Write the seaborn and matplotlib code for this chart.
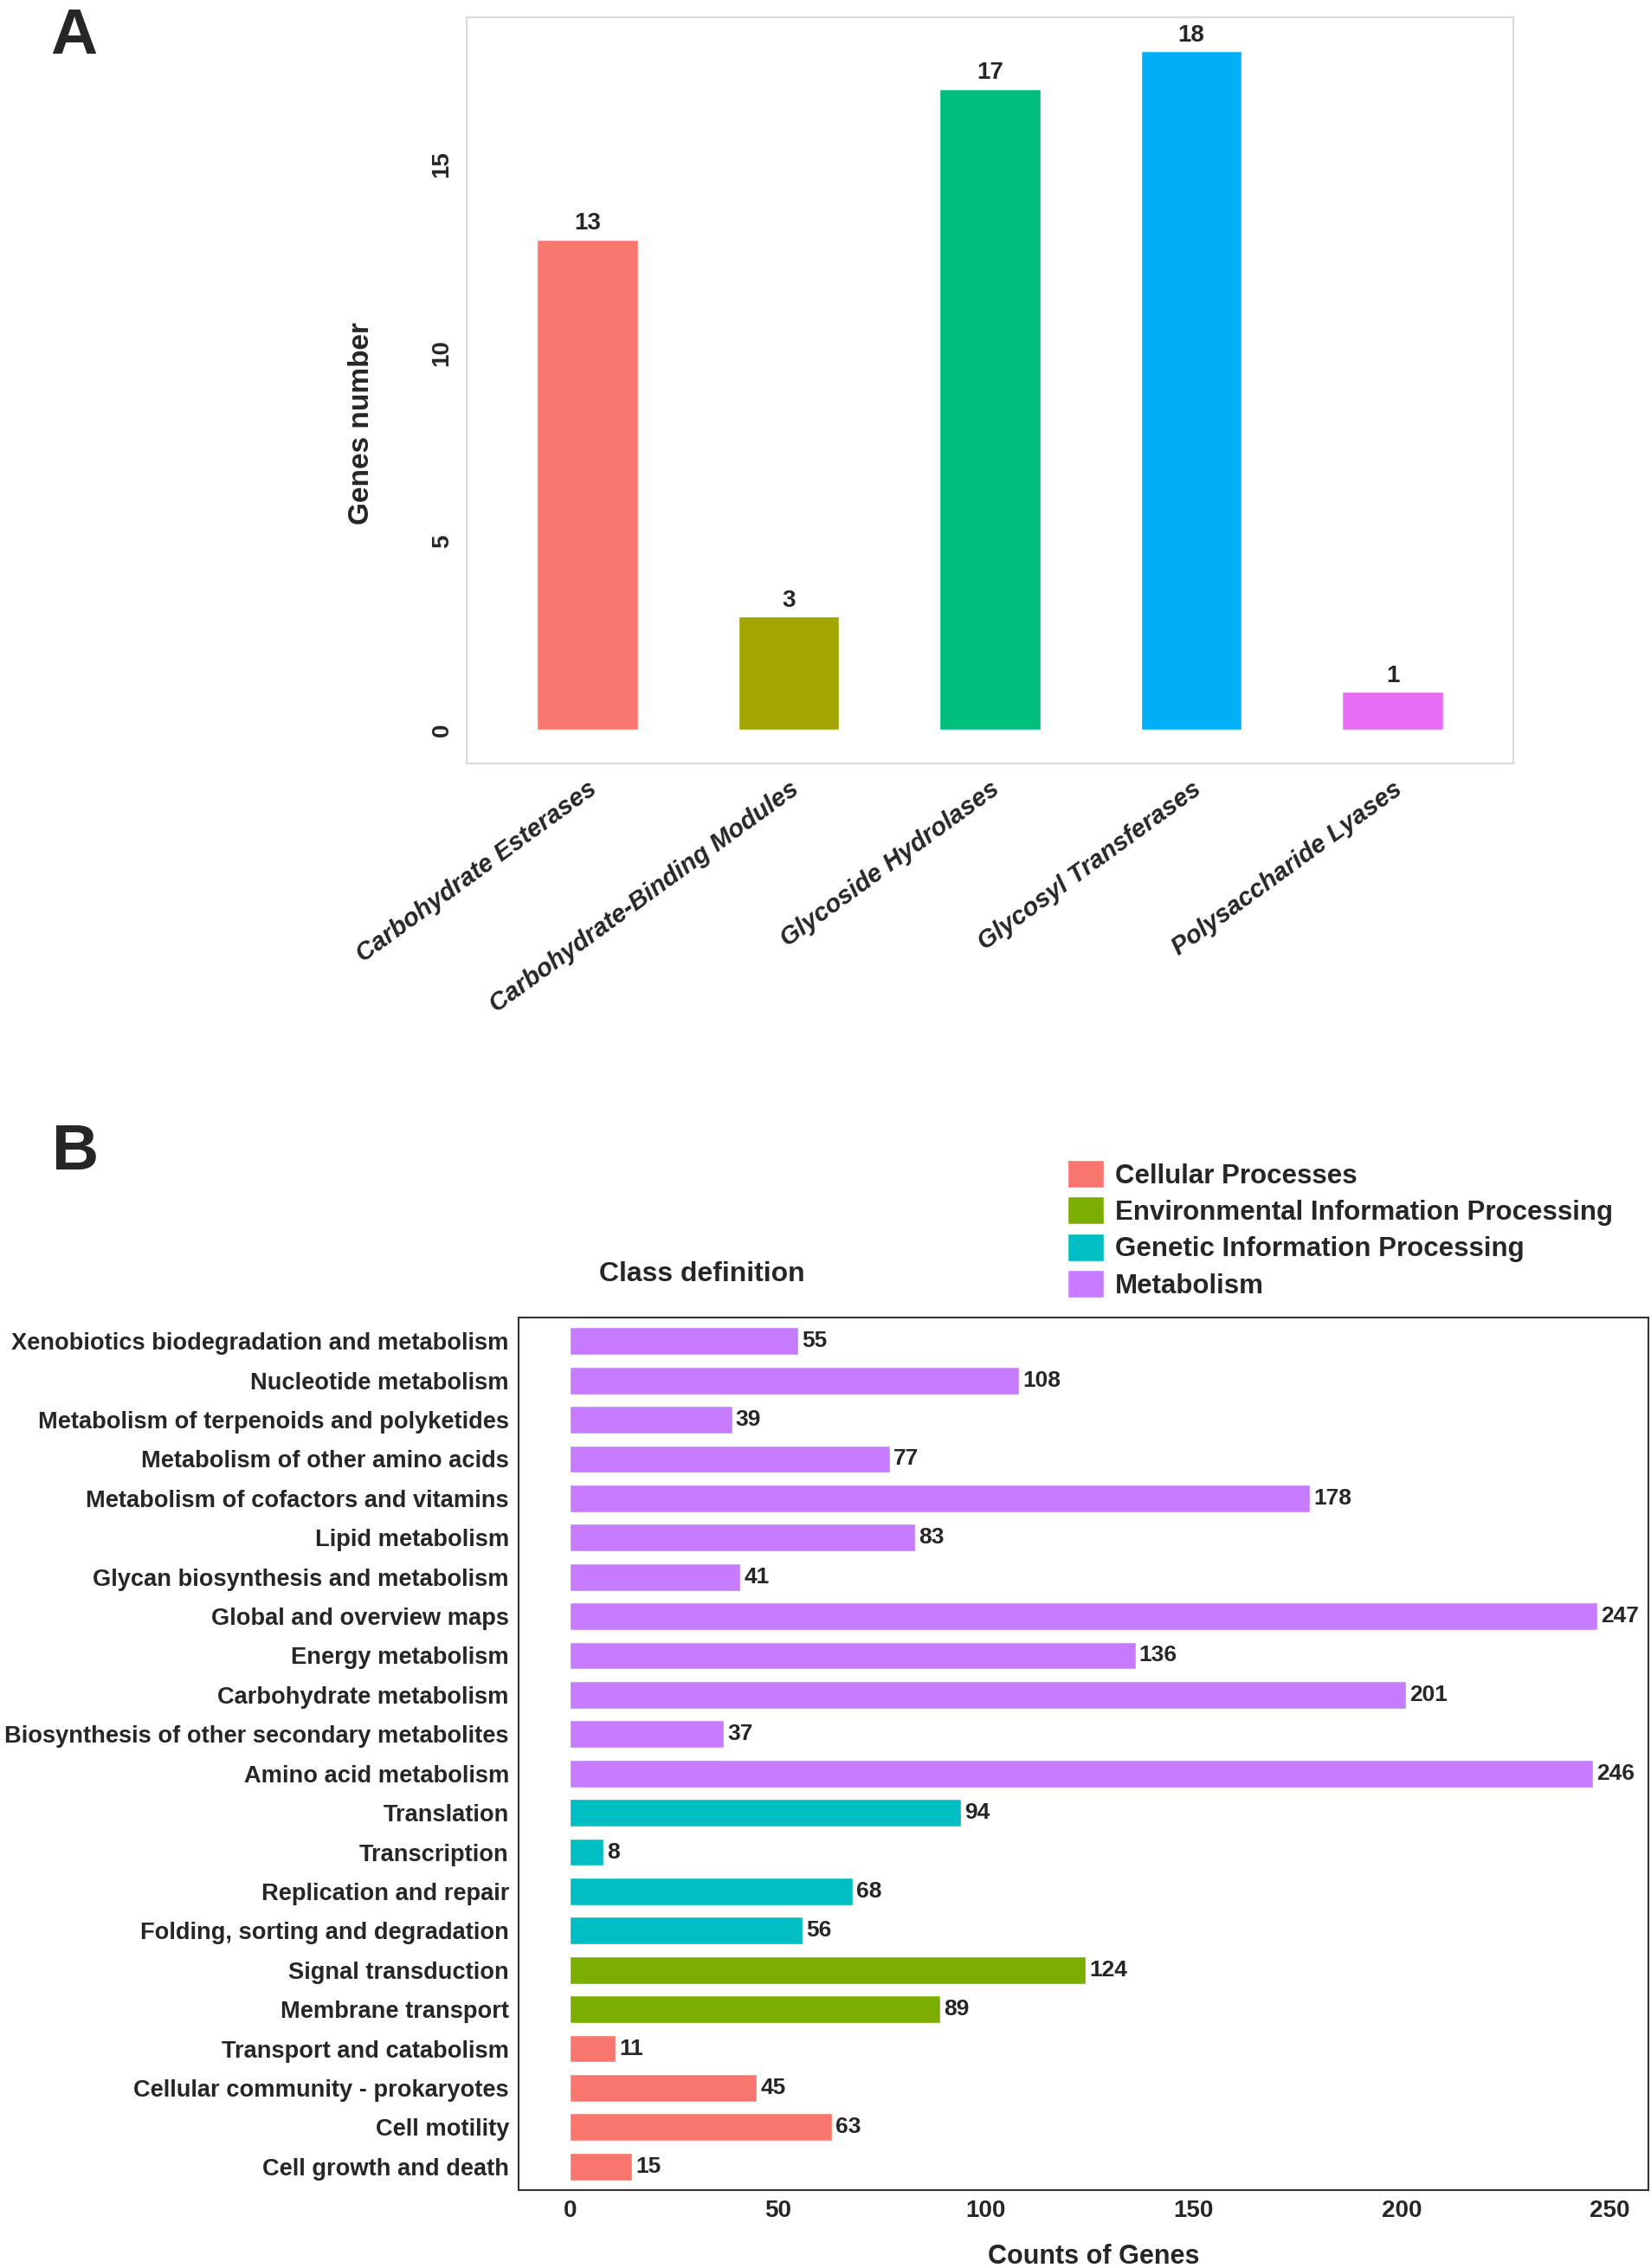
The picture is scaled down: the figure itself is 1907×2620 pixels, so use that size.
import matplotlib
matplotlib.use('Agg')
import matplotlib.pyplot as plt
import seaborn as sns
import pandas as pd
from matplotlib.patches import Patch

# Panel A: CAZy classes
cazy_classes = ['Carbohydrate Esterases', 'Carbohydrate-Binding Modules',
                'Glycoside Hydrolases', 'Glycosyl Transferases', 'Polysaccharide Lyases']
cazy_counts = [13, 3, 17, 18, 1]
cazy_colors = ['#F8766D', '#A3A500', '#00BF7D', '#00B0F6', '#E76BF3']

# Panel B: KEGG pathways (top to bottom)
kegg_pathways = ['Xenobiotics biodegradation and metabolism', 'Nucleotide metabolism',
                 'Metabolism of terpenoids and polyketides', 'Metabolism of other amino acids',
                 'Metabolism of cofactors and vitamins', 'Lipid metabolism',
                 'Glycan biosynthesis and metabolism', 'Global and overview maps',
                 'Energy metabolism', 'Carbohydrate metabolism',
                 'Biosynthesis of other secondary metabolites', 'Amino acid metabolism',
                 'Translation', 'Transcription', 'Replication and repair',
                 'Folding, sorting and degradation', 'Signal transduction', 'Membrane transport',
                 'Transport and catabolism', 'Cellular community - prokaryotes',
                 'Cell motility', 'Cell growth and death']
kegg_counts = [55, 108, 39, 77, 178, 83, 41, 247, 136, 201, 37, 246,
               94, 8, 68, 56, 124, 89, 11, 45, 63, 15]
kegg_class = ['Metabolism'] * 12 + ['Genetic Information Processing'] * 4 + \
             ['Environmental Information Processing'] * 2 + ['Cellular Processes'] * 4
class_names = ['Cellular Processes', 'Environmental Information Processing',
               'Genetic Information Processing', 'Metabolism']
class_colors = ['#F8766D', '#7CAE00', '#00BFC4', '#C77CFF']

sns.set_style('white')
plt.rcParams['font.family'] = ['Liberation Sans', 'DejaVu Sans']

W, H = 1907, 2620
fig = plt.figure(figsize=(W / 100, H / 100), dpi=100)

# ---- Panel A ----
axA = fig.add_axes([539 / W, 1 - 882 / H, (1748 - 539) / W, (882 - 20) / H])
dfA = pd.DataFrame({'cls': cazy_classes, 'n': cazy_counts})
sns.barplot(data=dfA, x='cls', y='n', hue='cls', palette=cazy_colors, width=0.5,
            saturation=1, legend=False, ax=axA)
axA.set_xlim(-0.6, 4.6)
axA.set_ylim(-0.9, 18.9)
axA.set_xlabel('')
axA.set_ylabel('')
axA.set_yticks([0, 5, 10, 15])
axA.set_yticklabels(['0', '5', '10', '15'], rotation=90, va='center', fontsize=20,
                    fontweight='bold')
axA.set_xticks(range(len(cazy_classes)))
axA.set_xticklabels(cazy_classes, rotation=36, ha='right', rotation_mode='anchor',
                    fontsize=21, fontweight='bold', fontstyle='italic')
axA.tick_params(axis='both', length=5, width=1.2, color='#333333', direction='out', pad=6)
for s in axA.spines.values():
    s.set_color('#D9D9D9')
    s.set_linewidth(1.5)
for c in axA.containers:
    axA.bar_label(c, padding=4, fontsize=20, fontweight='bold')
fig.text(418 / W, 1 - 489 / H, 'Genes number', rotation=90, ha='center', va='center',
         fontsize=24, fontweight='bold')

# ---- Panel B ----
axB = fig.add_axes([599 / W, 1 - 2530 / H, (1904 - 599) / W, (2530 - 1522) / H])
dfB = pd.DataFrame({'path': kegg_pathways, 'n': kegg_counts, 'cls': kegg_class})
sns.barplot(data=dfB, x='n', y='path', hue='cls', hue_order=class_names,
            palette=class_colors, dodge=False, width=0.7, saturation=1,
            legend=False, ax=axB)
axB.set_xlim(-12.35, 259.35)
axB.set_ylim(len(kegg_pathways) - 0.4, -0.6)
axB.set_xlabel('')
axB.set_ylabel('')
axB.set_xticks([0, 50, 100, 150, 200, 250])
axB.tick_params(axis='both', length=5, width=1.2, color='#333333', direction='out', pad=3)
for lab in axB.get_yticklabels():
    lab.set_fontweight('bold')
    lab.set_fontsize(19.6)
for lab in axB.get_xticklabels():
    lab.set_fontweight('bold')
    lab.set_fontsize(20)
for s in axB.spines.values():
    s.set_color('#333333')
    s.set_linewidth(1.5)
for c in axB.containers:
    axB.bar_label(c, padding=3, fontsize=19, fontweight='bold')

handles = [Patch(facecolor=col, label=name) for name, col in zip(class_names, class_colors)]
leg = fig.legend(handles=handles, loc='upper left', bbox_to_anchor=(1233 / W, 1 - 1340 / H),
                 frameon=False, prop={'weight': 'bold', 'size': 22.5},
                 handlelength=1.35, handleheight=1.2, labelspacing=0.28,
                 handletextpad=0.4, borderpad=0, borderaxespad=0)
fig.text(811 / W, 1 - 1472 / H, 'Class definition', ha='center', va='center',
         fontsize=23, fontweight='bold')
fig.text(1263 / W, 1 - 2607 / H, 'Counts of Genes', ha='center', va='center',
         fontsize=22, fontweight='bold')

# panel letters
fig.text(58 / W, 1 - 8 / H, 'A', ha='left', va='top', fontsize=54, fontweight='bold')
fig.text(60 / W, 1 - 1297 / H, 'B', ha='left', va='top', fontsize=54, fontweight='bold')

fig.savefig('out.png', dpi=100, facecolor='white')
